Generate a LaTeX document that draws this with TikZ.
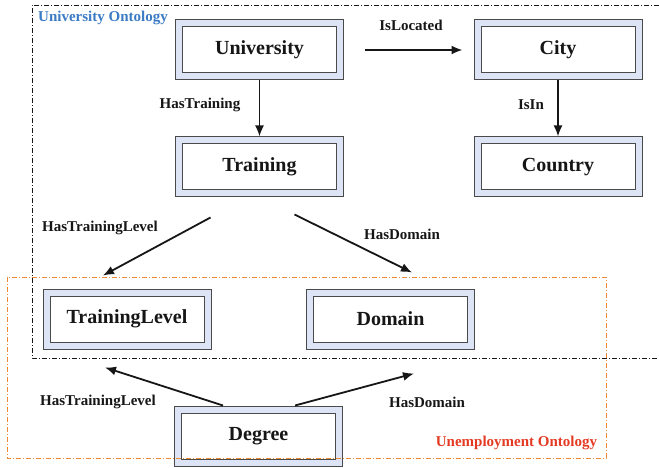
\documentclass[tikz,border=0pt]{standalone}
\usepackage{fontspec}
\setmainfont{Liberation Serif}
\usetikzlibrary{arrows.meta}
\definecolor{boxfill}{HTML}{DCE4F5}
\definecolor{boxline}{HTML}{4A4A4A}
\definecolor{inkblack}{HTML}{161616}
\definecolor{uniblue}{HTML}{3B7BC4}
\definecolor{unemred}{HTML}{E43A24}
\definecolor{frameorange}{HTML}{EE8A35}
\tikzset{
  concept/.style={
    draw=boxline, line width=1pt, fill=boxfill,
    minimum width=168pt, minimum height=60pt, inner sep=0pt,
    text=inkblack, font=\fontsize{20}{24}\selectfont\bfseries,
    path picture={
      \draw[draw=boxline, line width=1pt, fill=white]
        ([shift={(7pt,-7pt)}]path picture bounding box.north west)
        rectangle ([shift={(-7pt,7pt)}]path picture bounding box.south east);
    }},
  rel/.style={font=\fontsize{15}{18}\selectfont\bfseries, text=inkblack, inner sep=0pt},
  arr/.style={draw=inkblack, line width=1.8pt, -{Latex[length=11pt,width=9pt]}},
  ontolabel/.style={font=\fontsize{15}{18}\selectfont\bfseries, inner sep=0pt},
}
\begin{document}
\begin{tikzpicture}[x=1pt, y=-1pt]
\useasboundingbox (0,0) rectangle (659,468);

% concept boxes
\node[concept] (uni)     at (259.5,50)  {University};
\node[concept] (city)    at (558,50)    {City};
\node[concept] (train)   at (259.5,167) {Training};
\node[concept] (country) at (558,167)   {Country};
\node[concept] (tlevel)  at (127,319)   {TrainingLevel};
\node[concept] (domain)  at (390.5,319) {Domain};
\node[concept] (degree)  at (258.5,436) {Degree};

% ontology frames
\draw[inkblack, line width=0.6pt, dash pattern=on 5pt off 2pt on 1pt off 2pt]
  (659,5) -- (32,5) -- (32,358) -- (659,358);
\draw[frameorange, line width=0.8pt, dash pattern=on 5pt off 2pt on 1pt off 2pt]
  (7,277) rectangle (606,458);

\node[ontolabel, text=uniblue]  (unilabel)  at (103,18)    {University Ontology};
\node[ontolabel, text=unemred]  (unemlabel) at (516.5,443) {Unemployment Ontology};

% relations
\draw[arr] ([xshift=21pt]uni.east) -- ([xshift=-11pt]city.west);
\node[rel] (lIsLocated) at (411,25) {IsLocated};

\draw[arr] (uni.south) -- (train.north);
\node[rel] (lHasTraining) at (200,105) {HasTraining};

\draw[arr] (city.south) -- (country.north);
\node[rel] (lIsIn) at (531,105) {IsIn};

\draw[arr] ([xshift=-49pt,yshift=-20pt]train.south) -- ([xshift=-24pt,yshift=13pt]tlevel.north);
\node[rel] (lTL1) at (100,228) {HasTrainingLevel};

\draw[arr] ([xshift=35pt,yshift=-17pt]train.south) -- ([xshift=21.5pt,yshift=16pt]domain.north);
\node[rel] (lD1) at (402,234) {HasDomain};

\draw[arr] ([xshift=-35.5pt]degree.north) -- ([xshift=-22pt,yshift=-18pt]tlevel.south);
\node[rel] (lTL2) at (98,402) {HasTrainingLevel};

\draw[arr] ([xshift=36.5pt]degree.north) -- ([xshift=23.5pt,yshift=-24pt]domain.south);
\node[rel] (lD2) at (427,402) {HasDomain};
\end{tikzpicture}
\end{document}
